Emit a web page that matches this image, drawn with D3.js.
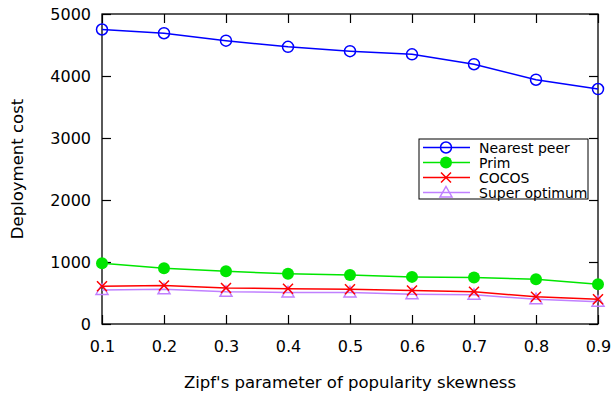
<!DOCTYPE html>
<html>
<head>
<meta charset="utf-8">
<script src="https://cdn.jsdelivr.net/npm/d3@7"></script>
<style>
  body { margin: 0; background: #fff; }
  svg text { font-family: "DejaVu Sans", sans-serif; fill: #000; }
</style>
</head>
<body>
<figure id="chart" style="margin:0"></figure>
<script>
const zipf = [0.1, 0.2, 0.3, 0.4, 0.5, 0.6, 0.7, 0.8, 0.9];
const nearestPeer = [4750, 4690, 4570, 4470, 4400, 4350, 4190, 3940, 3790];
const prim = [980, 900, 850, 810, 790, 760, 750, 720, 640];
const cocos = [610, 620, 580, 570, 560, 540, 520, 440, 400];
const superOptimum = [550, 560, 520, 510, 510, 480, 470, 400, 360];
const yTicks = [0, 1000, 2000, 3000, 4000, 5000];

const series = [
  { name: 'Nearest peer', values: nearestPeer, color: '#0000ff', marker: 'circle' },
  { name: 'Prim', values: prim, color: '#00e600', marker: 'dot' },
  { name: 'COCOS', values: cocos, color: '#ff0000', marker: 'cross' },
  { name: 'Super optimum', values: superOptimum, color: '#c080ff', marker: 'triangle' }
];

const W = 615, H = 396;
const mLeft = 102, mRight = 598, mTop = 14, mBottom = 324;

const svg = d3.select('#chart').append('svg')
  .attr('width', W).attr('height', H);

const x = d3.scaleLinear().domain([0.1, 0.9]).range([mLeft, mRight]);
const y = d3.scaleLinear().domain([0, 5000]).range([mBottom, mTop]);

// frame
svg.append('rect')
  .attr('x', mLeft).attr('y', mTop)
  .attr('width', mRight - mLeft).attr('height', mBottom - mTop)
  .attr('fill', 'none').attr('stroke', '#000').attr('stroke-width', 1.3);

// ticks inward, mirrored
const tl = 9;
const axB = svg.append('g').attr('transform', `translate(0,${mBottom})`)
  .call(d3.axisBottom(x).tickValues(zipf).tickSize(-tl).tickPadding(17).tickFormat(d3.format('.1f')));
const axT = svg.append('g').attr('transform', `translate(0,${mTop})`)
  .call(d3.axisTop(x).tickValues(zipf).tickSize(-tl).tickFormat(''));
const axL = svg.append('g').attr('transform', `translate(${mLeft},0)`)
  .call(d3.axisLeft(y).tickValues(yTicks).tickSize(-tl).tickPadding(11).tickFormat(d3.format('d')));
const axR = svg.append('g').attr('transform', `translate(${mRight},0)`)
  .call(d3.axisRight(y).tickValues(yTicks).tickSize(-tl).tickFormat(''));
[axB, axT, axL, axR].forEach(a => {
  a.select('.domain').remove();
  a.selectAll('line').attr('stroke', '#000').attr('stroke-width', 1.2);
  a.selectAll('text').style('font-size', '16px').style('font-family', '"DejaVu Sans", sans-serif');
});

// axis titles
svg.append('text')
  .attr('x', (mLeft + mRight) / 2).attr('y', 388)
  .attr('text-anchor', 'middle').style('font-size', '16.5px')
  .text("Zipf's parameter of popularity skewness");
svg.append('text')
  .attr('transform', `translate(23,${(mTop + mBottom) / 2}) rotate(-90)`)
  .attr('text-anchor', 'middle').style('font-size', '16.5px')
  .text('Deployment cost');

function drawMarker(g, type, color) {
  if (type === 'circle') {
    g.append('circle').attr('r', 5.5).attr('fill', 'none')
      .attr('stroke', color).attr('stroke-width', 1.5);
  } else if (type === 'dot') {
    g.append('circle').attr('r', 6).attr('fill', color);
  } else if (type === 'cross') {
    g.append('path').attr('d', 'M-5,-5L5,5M-5,5L5,-5')
      .attr('stroke', color).attr('stroke-width', 1.5).attr('fill', 'none');
  } else if (type === 'triangle') {
    g.append('path').attr('d', 'M0,-6L6,4.5L-6,4.5Z')
      .attr('stroke', color).attr('stroke-width', 1.5).attr('fill', 'none');
  }
}

const line = d3.line().x((d, i) => x(zipf[i])).y(d => y(d));

// draw from bottom to top so blue is on top
series.slice().reverse().forEach(s => {
  const g = svg.append('g');
  g.append('path').datum(s.values)
    .attr('d', line).attr('fill', 'none')
    .attr('stroke', s.color).attr('stroke-width', 1.5);
  s.values.forEach((v, i) => {
    const m = g.append('g').attr('transform', `translate(${x(zipf[i])},${y(v)})`);
    drawMarker(m, s.marker, s.color);
  });
});

// legend
const lg = svg.append('g');
lg.append('rect').attr('x', 419).attr('y', 139).attr('width', 169).attr('height', 60)
  .attr('fill', '#fff').attr('stroke', '#000').attr('stroke-width', 1);
series.forEach((s, i) => {
  const ly = 147.5 + i * 15;
  lg.append('line').attr('x1', 423).attr('x2', 470).attr('y1', ly).attr('y2', ly)
    .attr('stroke', s.color).attr('stroke-width', 1.5);
  const m = lg.append('g').attr('transform', `translate(446,${ly})`);
  drawMarker(m, s.marker, s.color);
  lg.append('text').attr('x', 479).attr('y', ly + 5)
    .style('font-size', '14px').text(s.name);
});
</script>
</body>
</html>
